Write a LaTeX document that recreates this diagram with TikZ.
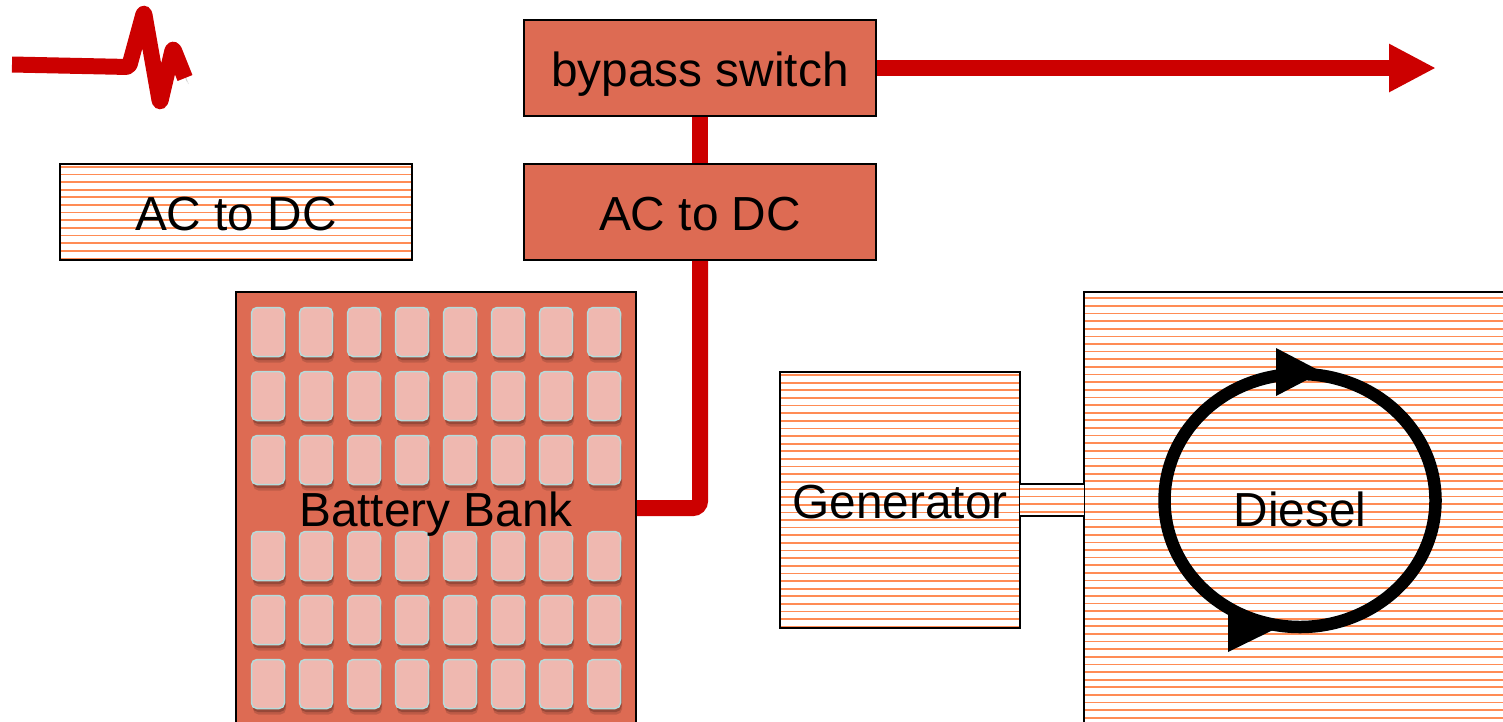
\documentclass[tikz,border=0pt]{standalone}
\usepackage{fontspec}
\setmainfont{Liberation Sans}
\usetikzlibrary{arrows.meta}
\usetikzlibrary{shadows}
\definecolor{boxred}{HTML}{DD6B53}
\definecolor{wirered}{HTML}{CC0000}
\definecolor{hatchorange}{HTML}{FF8C55}
\definecolor{cellpink}{HTML}{EFB8B0}
\definecolor{cellrim}{HTML}{B4DCDC}
\tikzset{
    label text/.style={font=\fontsize{27.2}{30}\selectfont, text=black, inner sep=0pt, text height=0.72cm, text depth=0pt},
    plainbox/.style={draw=black, line width=0.04cm, fill=boxred, inner sep=0pt, label text},
    hatchbox/.style={draw=black, line width=0.04cm, fill=white, inner sep=0pt, label text,
        path picture={
            \foreach \k in {0,...,60} {
                \draw[draw=hatchorange, line width=0.034cm]
                    ([yshift={-(#1+\k*7.63)*0.02cm}]path picture bounding box.north west) --
                    ([yshift={-(#1+\k*7.63)*0.02cm}]path picture bounding box.north east);
            }
        }},
    cellbox/.style={draw=cellrim, line width=0.03cm, fill=cellpink, rounded corners=0.11cm,
        minimum width=0.66cm, minimum height=0.98cm, inner sep=0pt,
        drop shadow={shadow xshift=0.03cm, shadow yshift=-0.12cm, opacity=0.14, fill=black},
        drop shadow={shadow xshift=0.02cm, shadow yshift=-0.07cm, opacity=0.2, fill=black}},
    wireshadow/.style={preaction={draw=black, opacity=0.1, transform canvas={shift={(0.07cm,-0.12cm)}}},
        preaction={draw=black, opacity=0.14, transform canvas={shift={(0.04cm,-0.07cm)}}}},
    wire/.style={draw=wirered, line width=0.32cm},
    loopline/.style={draw=black, line width=0.25cm}
}
\begin{document}
\begin{tikzpicture}[x=0.02cm, y=-0.02cm]
    \useasboundingbox (0,0) rectangle (1503,721);
    \clip (0,0) rectangle (1503,721);

    % wires go under the boxes
    \coordinate (tip) at (1436,68);
    \coordinate (bend) at (700,508);
    \node[plainbox, minimum width=7.04cm, minimum height=1.92cm] (bypass) at (700,68) {bypass switch};
    \node[plainbox, minimum width=7.04cm, minimum height=1.92cm] (rectifier) at (700,212) {AC to DC};
    \node[hatchbox=2.8, minimum width=7.04cm, minimum height=1.92cm] (spare) at (236,212) {AC to DC};
    \node[plainbox, minimum width=8cm, minimum height=9cm] (battery) at (436,517) {};
    \node[hatchbox=3, minimum width=4.8cm, minimum height=5.12cm] (generator) at (900,500) {Generator};
    \node[hatchbox=6.2, minimum width=8.6cm, minimum height=9.2cm, anchor=north west] (diesel) at (1083,291) {};
    \node[hatchbox=4.8, draw=none, outer sep=0pt, text height=0pt, minimum width=1.28cm, minimum height=0.64cm] (shaft) at (1052,500) {};
    \draw[line width=0.04cm] (shaft.north west) -- (shaft.north east);
    \draw[line width=0.04cm] (shaft.south west) -- (shaft.south east);

    \draw[wire, -{Triangle[length=0.94cm, width=0.9cm]}] (bypass.east) -- (tip);
    \draw[wire] (bypass.south) -- (rectifier.north);
    \draw[wire, wireshadow, rounded corners=0.14cm] (rectifier.south) -- (bend) -- (bend -| battery.east);

    % pulse
    \draw[wire, wireshadow, line width=0.32cm, line join=round, rounded corners=0.06cm]
        (12,64.5) -- (129,67) -- (144,12) -- (160,103) -- (173,48) -- (185,78);

    % cells
    \foreach \r/\y in {1/332,2/396,3/460,4/556,5/620,6/684} {
        \foreach \c in {0,...,7} {
            \node[cellbox] (cell\r\c) at (268+48*\c,\y) {};
        }
    }
    \node[label text] (batterylabel) at (436,508) {Battery Bank};

    % cycle
    \draw[loopline] (1300,500.5) ellipse [x radius=135.5, y radius=126.5];
    \fill (1276,348) -- (1322,372) -- (1276,396) -- cycle;
    \fill (1228,607) -- (1273,630) -- (1228,652) -- cycle;
    \node[label text] (diesellabel) at (1300,508) {Diesel};
\end{tikzpicture}
\end{document}
